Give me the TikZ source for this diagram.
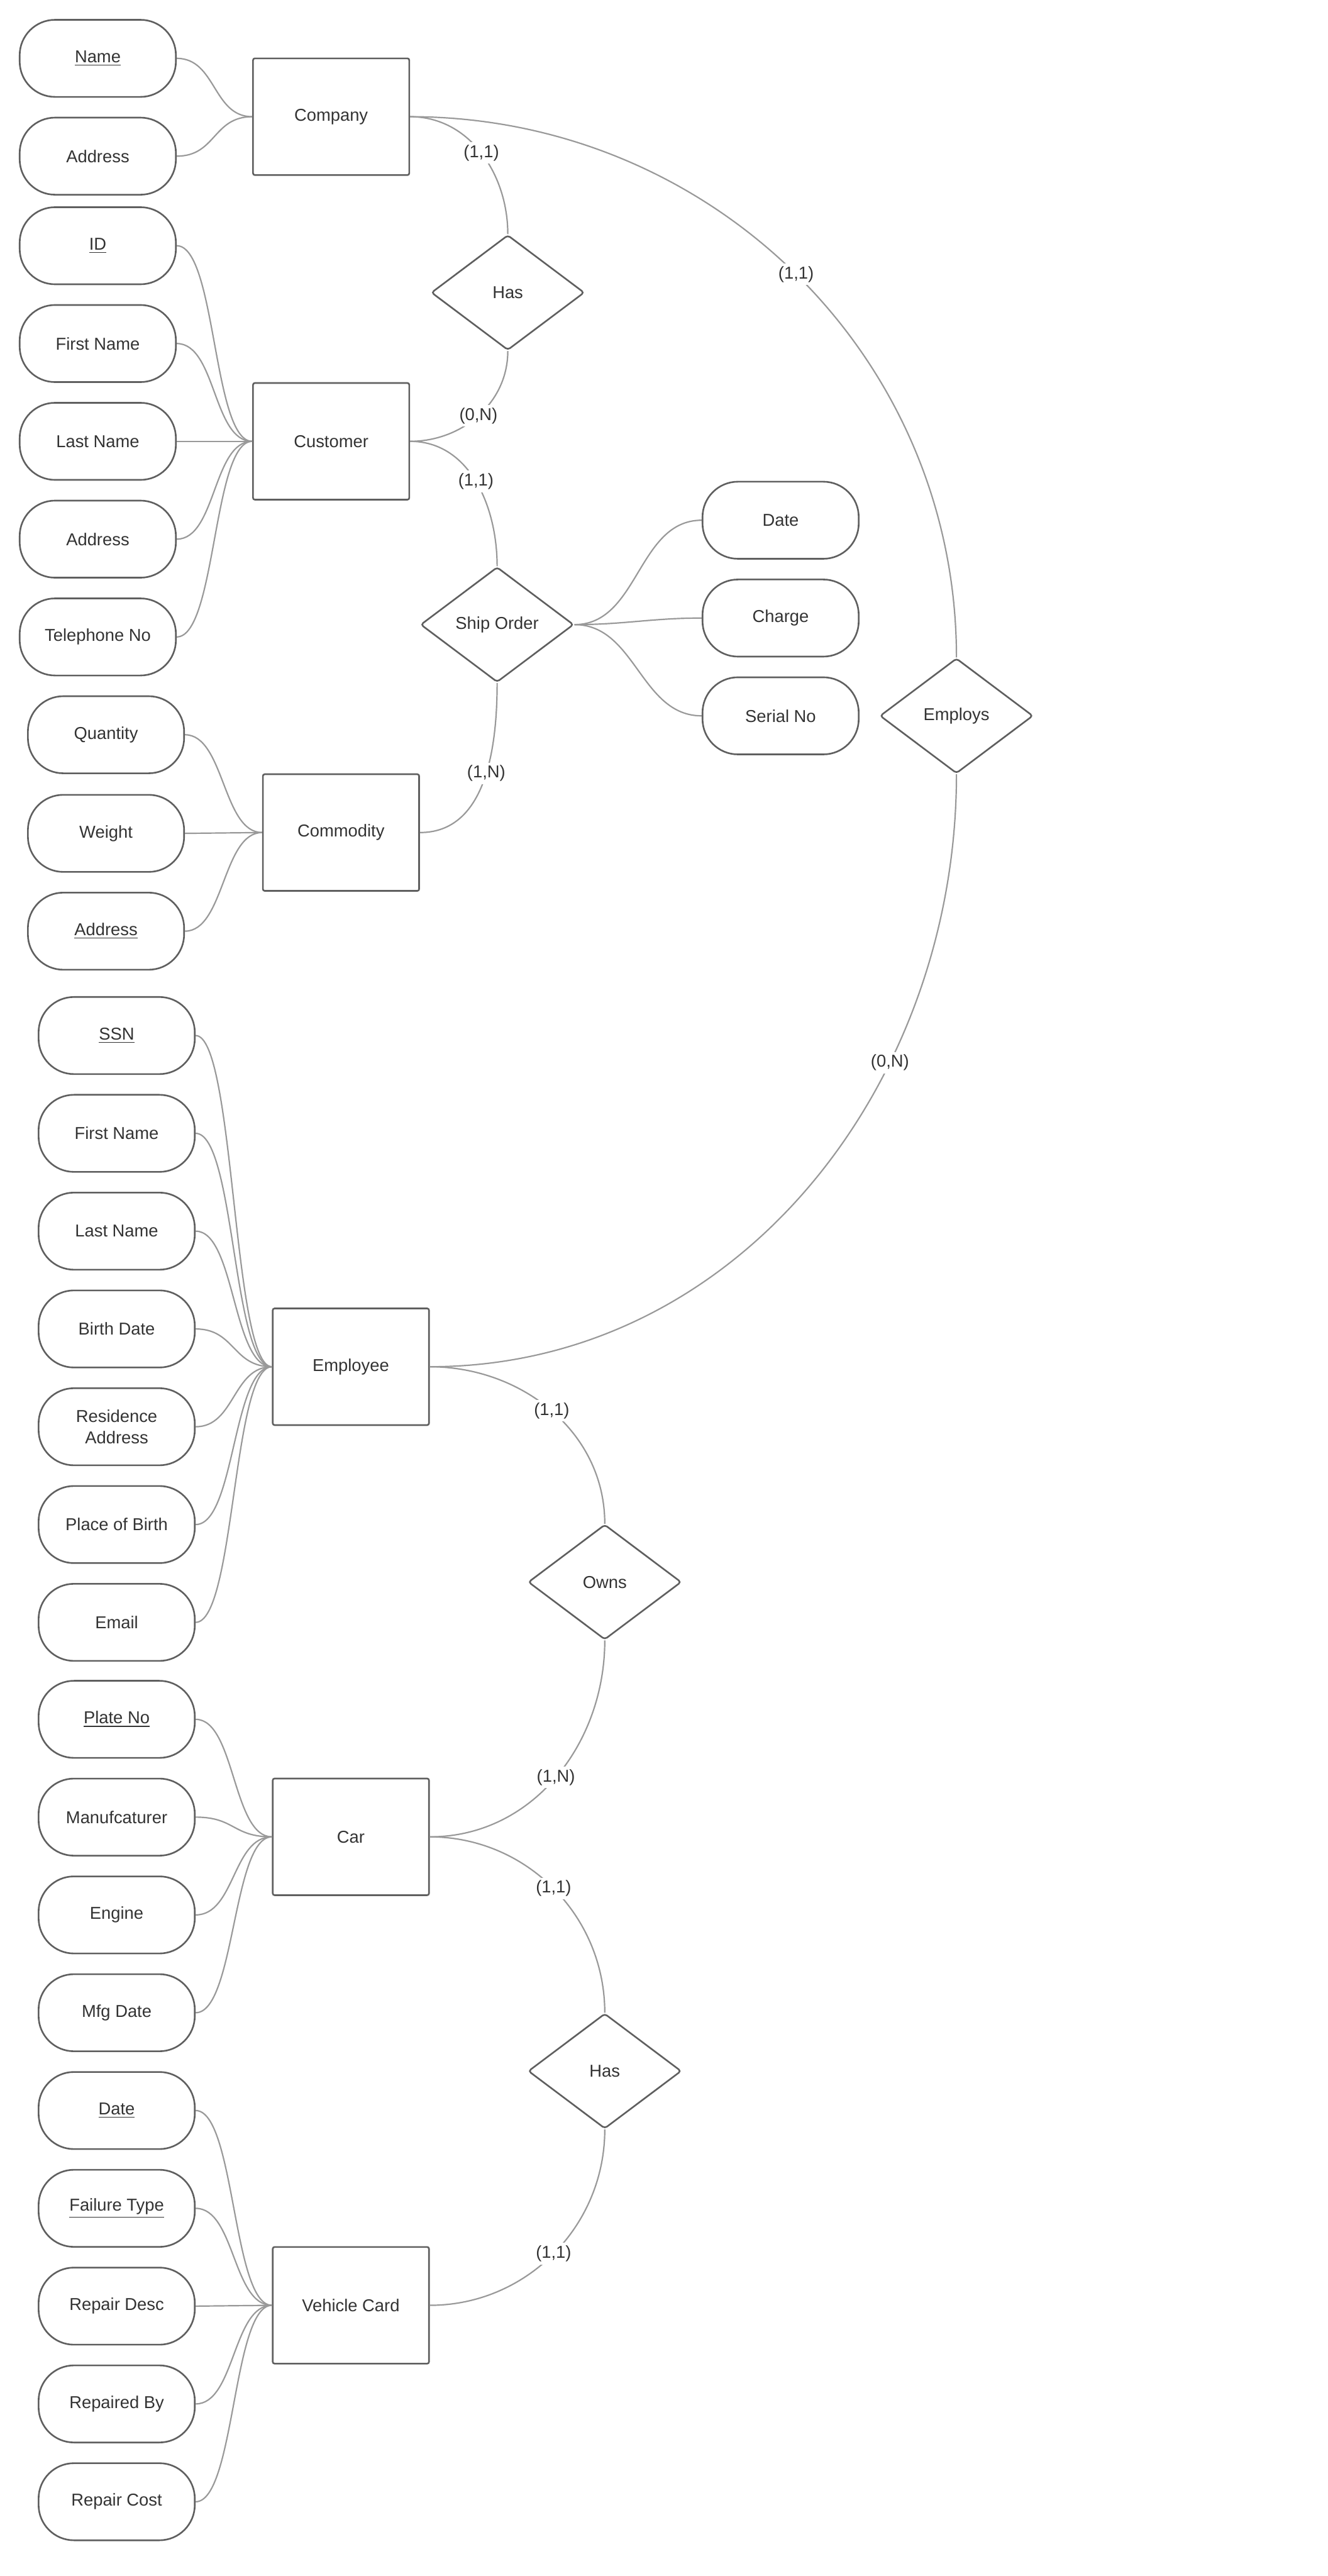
\documentclass[tikz,border=0pt]{standalone}
\usepackage{fontspec}
\setmainfont{Liberation Sans}
\usepackage{tikz}
\usetikzlibrary{shapes.geometric}
\definecolor{edge}{HTML}{5F5F5F}
\definecolor{linkgray}{HTML}{999999}
\definecolor{ink}{HTML}{333333}

\begin{document}
\begin{tikzpicture}[x=0.3156mm, y=0.3156mm,
  every node/.style={text=ink, font=\fontsize{9.4}{11.5}\selectfont},
  attr/.style={draw=edge, line width=0.9pt, rounded corners=6.8mm, minimum width=30mm, minimum height=14.8mm, inner sep=0pt, align=center},
  entity/.style={draw=edge, line width=0.9pt, rounded corners=1pt, minimum width=30mm, minimum height=22.4mm},
  rel/.style={draw=edge, line width=0.9pt, diamond, rounded corners=1.5pt, minimum width=29.4mm, minimum height=22.1mm, inner sep=0pt},
  link/.style={draw=linkgray, line width=0.75pt},
  card/.style={fill=white, inner sep=1.5pt}]
  \useasboundingbox (0,0) rectangle (808,-1567.2);

  % company and customer
  \node[attr] (name) at (59.5,-35.5) {\underline{Name}};
  \node[attr] (caddr) at (59.5,-95) {Address};
  \node[entity] (company) at (201.5,-71) {Company};
  \node[attr] (cid) at (59.5,-149.5) {\underline{ID}};
  \node[attr] (cfirst) at (59.5,-209) {First Name};
  \node[attr] (clast) at (59.5,-268.5) {Last Name};
  \node[attr] (caddrb) at (59.5,-328) {Address};
  \node[attr] (ctel) at (59.5,-387.5) {Telephone No};
  \node[entity] (customer) at (201.5,-268.5) {Customer};
  \node[rel] (hasA) at (309,-178) {Has};

  % shipping
  \node[rel] (ship) at (302.5,-380) {Ship Order};
  \node[attr] (sdate) at (475,-316.5) {Date};
  \node[attr] (charge) at (475,-376) {Charge};
  \node[attr] (serial) at (475,-435.5) {Serial No};
  \node[attr] (qty) at (64.5,-447) {Quantity};
  \node[attr] (weight) at (64.5,-507) {Weight};
  \node[attr] (maddr) at (64.5,-566.5) {\underline{Address}};
  \node[entity] (commodity) at (207.5,-506.5) {Commodity};
  \node[rel] (employs) at (582,-435.5) {Employs};

  % employee
  \node[attr] (ssn) at (71,-630) {\underline{SSN}};
  \node[attr] (efirst) at (71,-689.5) {First Name};
  \node[attr] (elast) at (71,-749) {Last Name};
  \node[attr] (bdate) at (71,-808.5) {Birth Date};
  \node[attr] (raddr) at (71,-868) {Residence\\Address};
  \node[attr] (pob) at (71,-927.5) {Place of Birth};
  \node[attr] (email) at (71,-987) {Email};
  \node[entity] (employee) at (213.5,-831.5) {Employee};
  \node[rel] (owns) at (368,-962.5) {Owns};

  % car
  \node[attr] (plate) at (71,-1046) {\underline{Plate No}};
  \node[attr] (manuf) at (71,-1105.5) {Manufcaturer};
  \node[attr] (engine) at (71,-1165) {Engine};
  \node[attr] (mfg) at (71,-1224.5) {Mfg Date};
  \node[entity] (car) at (213.5,-1117.5) {Car};
  \node[rel] (hasB) at (368,-1260) {Has};

  % vehicle card
  \node[attr] (vdate) at (71,-1284) {\underline{Date}};
  \node[attr] (ftype) at (71,-1343.5) {\underline{Failure Type}};
  \node[attr] (rdesc) at (71,-1403) {Repair Desc};
  \node[attr] (rby) at (71,-1462.5) {Repaired By};
  \node[attr] (rcost) at (71,-1522) {Repair Cost};
  \node[entity] (vcard) at (213.5,-1402.5) {Vehicle Card};

  % attribute links
  \draw[link] (name.east) .. controls +(24,0) and +(-24,0) .. (company.west);
  \draw[link] (caddr.east) .. controls +(24,0) and +(-24,0) .. (company.west);
  \draw[link] (cid.east) .. controls +(24,0) and +(-24,0) .. (customer.west);
  \draw[link] (cfirst.east) .. controls +(24,0) and +(-24,0) .. (customer.west);
  \draw[link] (clast.east) -- (customer.west);
  \draw[link] (caddrb.east) .. controls +(24,0) and +(-24,0) .. (customer.west);
  \draw[link] (ctel.east) .. controls +(24,0) and +(-24,0) .. (customer.west);
  \draw[link] (ship.east) to[out=0,in=180] (sdate.west);
  \draw[link] (ship.east) to[out=0,in=180] (charge.west);
  \draw[link] (ship.east) to[out=0,in=180] (serial.west);
  \draw[link] (qty.east) .. controls +(24,0) and +(-24,0) .. (commodity.west);
  \draw[link] (weight.east) -- (commodity.west);
  \draw[link] (maddr.east) .. controls +(24,0) and +(-24,0) .. (commodity.west);
  \draw[link] (ssn.east) .. controls +(24,0) and +(-24,0) .. (employee.west);
  \draw[link] (efirst.east) .. controls +(24,0) and +(-24,0) .. (employee.west);
  \draw[link] (elast.east) .. controls +(24,0) and +(-24,0) .. (employee.west);
  \draw[link] (bdate.east) .. controls +(24,0) and +(-24,0) .. (employee.west);
  \draw[link] (raddr.east) .. controls +(24,0) and +(-24,0) .. (employee.west);
  \draw[link] (pob.east) .. controls +(24,0) and +(-24,0) .. (employee.west);
  \draw[link] (email.east) .. controls +(24,0) and +(-24,0) .. (employee.west);
  \draw[link] (plate.east) .. controls +(24,0) and +(-24,0) .. (car.west);
  \draw[link] (manuf.east) .. controls +(24,0) and +(-24,0) .. (car.west);
  \draw[link] (engine.east) .. controls +(24,0) and +(-24,0) .. (car.west);
  \draw[link] (mfg.east) .. controls +(24,0) and +(-24,0) .. (car.west);
  \draw[link] (vdate.east) .. controls +(24,0) and +(-24,0) .. (vcard.west);
  \draw[link] (ftype.east) .. controls +(24,0) and +(-24,0) .. (vcard.west);
  \draw[link] (rdesc.east) -- (vcard.west);
  \draw[link] (rby.east) .. controls +(24,0) and +(-24,0) .. (vcard.west);
  \draw[link] (rcost.east) .. controls +(24,0) and +(-24,0) .. (vcard.west);

  % relationship links
  \draw[link] (company.east) to[out=0,in=90] node[card] {(1,1)} (hasA.north);
  \draw[link] (hasA.south) to[out=-90,in=0] node[card] {(0,N)} (customer.east);
  \draw[link] (customer.east) to[out=0,in=90] node[card] {(1,1)} (ship.north);
  \draw[link] (ship.south) to[out=-90,in=0] node[card, pos=0.45] {(1,N)} (commodity.east);
  \draw[link] (company.east) to[out=0,in=90] node[card, pos=0.5] {(1,1)} (employs.north);
  \draw[link] (employs.south) to[out=-90,in=0] node[card, pos=0.33] {(0,N)} (employee.east);
  \draw[link] (employee.east) to[out=0,in=90] node[card] {(1,1)} (owns.north);
  \draw[link] (owns.south) to[out=-90,in=0] node[card] {(1,N)} (car.east);
  \draw[link] (car.east) to[out=0,in=90] node[card] {(1,1)} (hasB.north);
  \draw[link] (hasB.south) to[out=-90,in=0] node[card] {(1,1)} (vcard.east);
\end{tikzpicture}
\end{document}
